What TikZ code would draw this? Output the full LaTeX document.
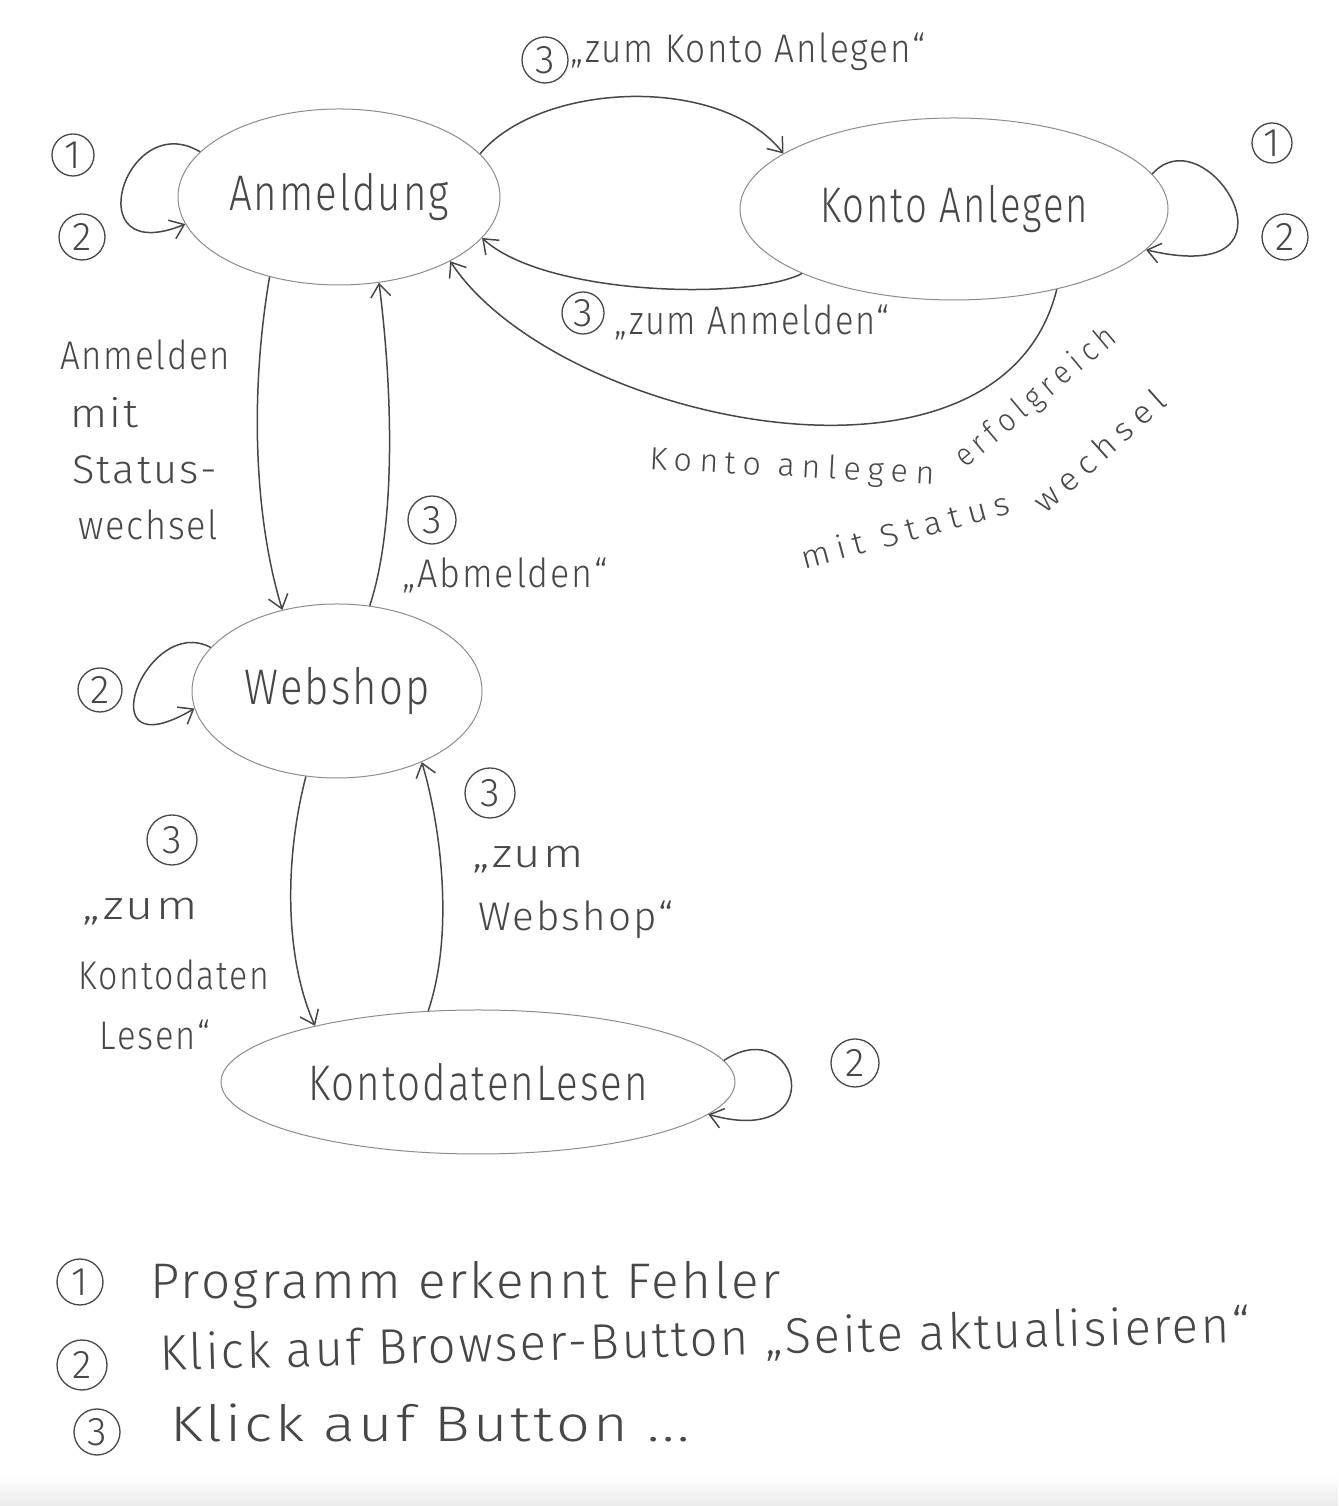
\documentclass[tikz,border=0pt]{standalone}
\usepackage{fontspec}
\setmainfont{Fira Sans}
\newfontfamily\hand{Fira Sans}[UprightFont={* Light}, LetterSpace=5]
\newfontfamily\handwide{Fira Sans}[UprightFont={* Light}, LetterSpace=22]
\usetikzlibrary{shapes.geometric,arrows.meta}
\definecolor{ink}{HTML}{474747}
\definecolor{rim}{HTML}{8C8C8C}
\newcommand\hw[2]{\resizebox{#1pt}{\height}{#2}}
\begin{document}
\begin{tikzpicture}[x=1pt,y=1pt,
  stbox/.style={ellipse, draw=rim, line width=1pt, inner sep=0pt, text=ink,
    font=\hand\fontsize{50}{54}\selectfont},
  lab/.style={text=ink, inner sep=0pt, font=\hand\fontsize{40}{44}\selectfont},
  rlab/.style={text=ink, inner sep=0pt, font=\handwide\fontsize{32}{36}\selectfont},
  leg/.style={text=ink, inner sep=0pt, anchor=west, font=\hand\fontsize{50}{54}\selectfont},
  num/.style={circle, draw=ink, line width=1.3pt, inner sep=0pt, minimum size=44pt,
    text=ink, font=\hand\fontsize{40}{40}\selectfont},
  conn/.style={draw=ink, line width=1.5pt, -{Straight Barb[length=13pt,width=20pt]}}
]
\useasboundingbox (0,0) rectangle (1338,1506);
\fill[white] (0,0) rectangle (1338,1506);
\shade[top color=white, bottom color=black!8] (0,0) rectangle (1338,32);

% states
\node[stbox, minimum width=322pt, minimum height=176pt] (anm) at (339,1309) {\hw{220}{Anmeldung}};
\node[stbox, minimum width=428pt, minimum height=182pt] (ka) at (954,1297) {\hw{268}{Konto Anlegen}};
\node[stbox, minimum width=290pt, minimum height=174pt] (web) at (337,815) {\hw{185}{Webshop}};
\node[stbox, minimum width=514pt, minimum height=144pt] (kdl) at (478,424) {\hw{340}{KontodatenLesen}};

% transitions
\draw[conn] (anm.17) .. controls +(60,72) and +(-63,80) .. (ka.162);
\draw[conn] (ka.203) .. controls +(-52,-27) and +(63,-58) .. (anm.344);
\draw[conn] (ka.322) .. controls +(-57,-230) and +(105,-160) .. (anm.330);
\draw[conn] (anm.229) .. controls +(-20,-118) and +(-28,92) .. (web.124);
\draw[conn] (web.69) .. controls +(25,75) and +(15,-118) .. (anm.295);
\draw[conn] (web.250) .. controls +(-22,-85) and +(-30,67) .. (kdl.161);
\draw[conn] (kdl.125) .. controls +(27,80) and +(18,-60) .. (web.320);

% self loops
\draw[conn] (anm.162) .. controls +(-75,45) and +(-110,-45) .. (anm.190);
\draw[conn] (ka.10) .. controls +(55,62) and +(170,-40) .. (ka.348);
\draw[conn] (web.161) .. controls +(-65,35) and +(-110,-65) .. (web.187);
\draw[conn] (kdl.5) .. controls +(75,50) and +(125,-35) .. (kdl.352);

% loop labels
\node[num, minimum size=42pt] (n1a) at (73,1351) {1};
\node[num, minimum size=46pt] (n2a) at (82,1269) {2};
\node[num, minimum size=40pt] (n1k) at (1272,1363) {1};
\node[num, minimum size=46pt] (n2k) at (1285,1269) {2};
\node[num, minimum size=44pt] (n2w) at (100,816) {2};
\node[num, minimum size=48pt] (n2l) at (855,443) {2};

% edge labels
\node[num, minimum size=46pt] (c1) at (545,1446) {3};
\node[lab] (t1) at (748,1454) {\hw{355}{„zum Konto Anlegen“}};
\node[num, minimum size=42pt] (c2) at (583,1193) {3};
\node[lab] (t2) at (752,1184) {\hw{275}{„zum Anmelden“}};

\node[rlab, rotate=-3] (t3a) at (792,1038) {\hw{285}{Konto anlegen}};
\node[rlab, rotate=40] (t3b) at (1036,1108) {\hw{200}{erfolgreich}};
\node[rlab, rotate=15] (t3c) at (905,976) {\hw{215}{mit Status}};
\node[rlab, rotate=42] (t3d) at (1099,1055) {\hw{165}{wechsel}};

\node[lab, anchor=west] (t4a) at (60,1151) {\hw{170}{Anmelden}};
\node[lab, anchor=west] (t4b) at (70,1093) {\hw{68}{mit}};
\node[lab, anchor=west] (t4c) at (72,1036) {\hw{145}{Status-}};
\node[lab, anchor=west] (t4d) at (78,981) {\hw{140}{wechsel}};

\node[num, minimum size=48pt] (c5) at (432,986) {3};
\node[lab] (t5) at (505,931) {\hw{205}{„Abmelden“}};

\node[num, minimum size=50pt] (c6) at (172,666) {3};
\node[lab] (t6a) at (140,594) {\hw{115}{„zum}};
\node[lab] (t6b) at (174,531) {\hw{190}{Kontodaten}};
\node[lab] (t6c) at (155,471) {\hw{110}{Lesen“}};

\node[num, minimum size=50pt] (c7) at (490,713) {3};
\node[lab] (t7a) at (528,646) {\hw{112}{„zum}};
\node[lab] (t7b) at (576,586) {\hw{195}{Webshop“}};

% legend
\node[num, minimum size=46pt] (l1) at (80,224) {1};
\node[leg] (lt1) at (150,221) {\hw{630}{Programm erkennt Fehler}};
\node[num, minimum size=50pt] (l2) at (82,141) {2};
\node[leg, rotate=1.5] (lt2) at (160,151) {\hw{1090}{Klick auf Browser-Button „Seite aktualisieren“}};
\node[num, minimum size=46pt] (l3) at (97,74) {3};
\node[leg] (lt3) at (170,83) {\hw{520}{Klick auf Button ...}};
\end{tikzpicture}
\end{document}
